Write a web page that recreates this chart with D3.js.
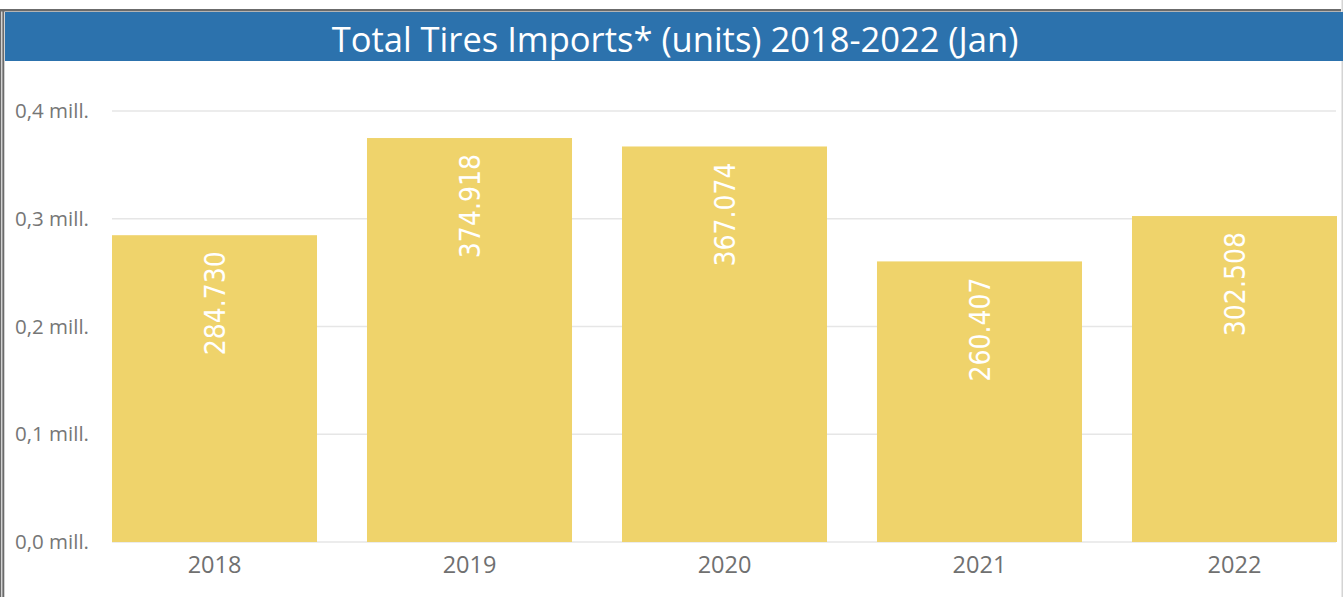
<!DOCTYPE html>
<html>
<head>
<meta charset="utf-8">
<script src="https://cdn.jsdelivr.net/npm/d3@7"></script>
<style>
  html, body { margin: 0; padding: 0; background: #fff; }
  svg { display: block; }
</style>
</head>
<body>
<svg id="vis" width="1343" height="597"></svg>
<script>
// chart data
const years = ["2018", "2019", "2020", "2021", "2022"];
const imports = [284730, 374918, 367074, 260407, 302508];
const labels = ["284.730", "374.918", "367.074", "260.407", "302.508"];
const yTicks = [0, 100000, 200000, 300000, 400000];
const yTickLabels = ["0,0 mill.", "0,1 mill.", "0,2 mill.", "0,3 mill.", "0,4 mill."];
const title = "Total Tires Imports* (units) 2018-2022 (Jan)";

const svg = d3.select("svg#vis");
const width = 1343;

// frame lines
svg.append("rect").attr("x", 0).attr("y", 9).attr("width", 1341).attr("height", 2.5).attr("fill", "#6b6b6b");
svg.append("rect").attr("x", 0).attr("y", 9).attr("width", 1.3).attr("height", 588).attr("fill", "#6b6b6b");
svg.append("rect").attr("x", 2.3).attr("y", 9).attr("width", 2).attr("height", 588).attr("fill", "#6b6b6b");
svg.append("rect").attr("x", 1341.5).attr("y", 0).attr("width", 1.5).attr("height", 597).attr("fill", "#d4d4d4");

// header
svg.append("rect")
  .attr("x", 5).attr("y", 12)
  .attr("width", width - 5).attr("height", 49)
  .attr("fill", "#2c72ad");

svg.append("text")
  .attr("x", 675).attr("y", 52)
  .attr("text-anchor", "middle")
  .attr("fill", "#fff")
  .style("font-family", "'Open Sans', 'Noto Sans', sans-serif")
  .style("font-size", "34.5px")
  .text(title);

// scales
const x = d3.scaleBand()
  .domain(years)
  .range([112, 1337])
  .paddingInner(0.196)
  .paddingOuter(0);

const y = d3.scaleLinear()
  .domain([0, 400000])
  .range([542, 111]);

// gridlines
svg.append("g").selectAll("line")
  .data(yTicks)
  .enter()
  .append("line")
  .attr("x1", 112).attr("x2", 1336)
  .attr("y1", d => y(d)).attr("y2", d => y(d))
  .attr("stroke", "#e6e6e6")
  .attr("stroke-width", 1.5);

// y axis labels
svg.append("g").selectAll("text")
  .data(yTicks)
  .enter()
  .append("text")
  .attr("x", 15)
  .attr("y", d => y(d) + 7)
  .attr("fill", "#767676")
  .style("font-family", "'Open Sans', 'Noto Sans', sans-serif")
  .style("font-size", "20.5px")
  .text((d, i) => yTickLabels[i]);

// bars
const data = years.map((d, i) => ({ year: d, value: imports[i], label: labels[i] }));

svg.append("g").selectAll("rect")
  .data(data)
  .enter()
  .append("rect")
  .attr("x", d => x(d.year))
  .attr("y", d => y(d.value))
  .attr("width", x.bandwidth())
  .attr("height", d => y(0) - y(d.value))
  .attr("fill", "#efd36b");

// value labels (rotated)
svg.append("g").selectAll("text")
  .data(data)
  .enter()
  .append("text")
  .attr("transform", d => "translate(" + (x(d.year) + x.bandwidth() / 2) + "," + (y(d.value) + 16) + ") rotate(-90)")
  .attr("text-anchor", "end")
  .attr("dy", "0.36em")
  .attr("fill", "#fff")
  .style("font-family", "'DejaVu Sans Condensed', 'DejaVu Sans', sans-serif")
  .style("font-size", "28px")
  .text(d => d.label);

// x axis labels
const xAxis = d3.axisBottom(x).tickSize(0).tickPadding(14);
const gx = svg.append("g")
  .attr("transform", "translate(0," + y(0) + ")")
  .call(xAxis);
gx.select(".domain").remove();
gx.selectAll("text")
  .attr("fill", "#707070")
  .style("font-family", "'Open Sans', 'Noto Sans', sans-serif")
  .style("font-size", "23.5px");
</script>
</body>
</html>
